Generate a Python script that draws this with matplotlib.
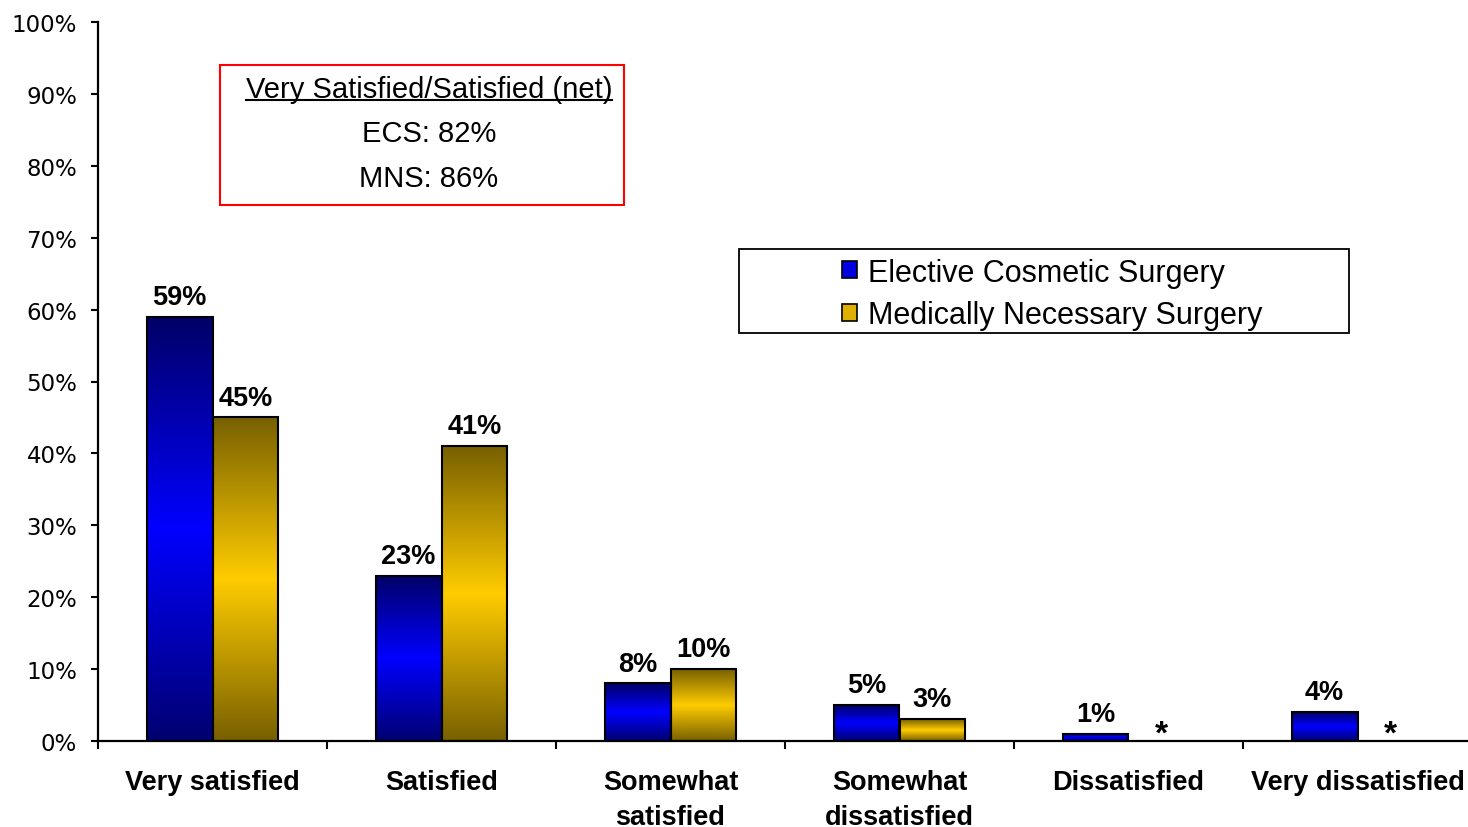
import matplotlib
matplotlib.use("Agg")
import matplotlib.pyplot as plt
import numpy as np
from matplotlib.colors import LinearSegmentedColormap
from matplotlib.patches import Rectangle, Patch
from matplotlib.lines import Line2D

categories = ["Very satisfied", "Satisfied", "Somewhat\nsatisfied",
              "Somewhat\ndissatisfied", "Dissatisfied", "Very dissatisfied"]
ecs_values = [59, 23, 8, 5, 1, 4]
mns_values = [45, 41, 10, 3, 0, 0]
ecs_labels = ["59%", "23%", "8%", "5%", "1%", "4%"]
mns_labels = ["45%", "41%", "10%", "3%", "*", "*"]
series_names = ["Elective Cosmetic Surgery", "Medically Necessary Surgery"]
yticks = [0, 10, 20, 30, 40, 50, 60, 70, 80, 90, 100]
ytick_labels = ["0%", "10%", "20%", "30%", "40%", "50%", "60%", "70%", "80%", "90%", "100%"]
box_lines = ["Very Satisfied/Satisfied (net)", "ECS: 82%", "MNS: 86%"]

W, H = 1468, 828
fig = plt.figure(figsize=(W / 100, H / 100), dpi=100)
ax = fig.add_axes([98 / W, 1 - 742 / H, (1468 - 98) / W, (742 - 23) / H])

blue_cmap = LinearSegmentedColormap.from_list(
    "b", [(0, "#000070"), (0.5, "#0000FF"), (1, "#000066")])
gold_cmap = LinearSegmentedColormap.from_list(
    "g", [(0, "#786000"), (0.5, "#FFCC00"), (1, "#786000")])
grad = np.linspace(0, 1, 256).reshape(-1, 1)

x = np.arange(len(categories))
bw = 0.288
bars_e = ax.bar(x - bw / 2, ecs_values, bw, facecolor="none", edgecolor="black", linewidth=1.5, zorder=3)
bars_m = ax.bar(x + bw / 2, mns_values, bw, facecolor="none", edgecolor="black", linewidth=1.5, zorder=3)

for bars, cmap in ((bars_e, blue_cmap), (bars_m, gold_cmap)):
    for b in bars:
        h = b.get_height()
        if h <= 0:
            b.set_visible(False)
            continue
        x0 = b.get_x()
        im = ax.imshow(grad, extent=[x0, x0 + b.get_width(), 0, h], origin="lower",
                       aspect="auto", cmap=cmap, zorder=2, interpolation="bilinear")
        im.set_clip_path(b)

lab_font = dict(family="Liberation Sans", fontsize=19.5, fontweight="bold")
for bars, labels in ((bars_e, ecs_labels), (bars_m, mns_labels)):
    for b, lab in zip(bars, labels):
        cx = b.get_x() + b.get_width() / 2
        if lab == "*":
            ax.annotate(lab, (cx, 0), xytext=(0, -6), textcoords="offset points",
                        ha="center", va="bottom", family="Liberation Sans",
                        fontsize=24, fontweight="bold")
        else:
            ax.annotate(lab, (cx, b.get_height()), xytext=(0, 5), textcoords="offset points",
                        ha="center", va="bottom", **lab_font)

ax.set_xlim(-0.5, -0.5 + (1468 - 98) / 229)
ax.set_ylim(0, 100)
ax.set_yticks(yticks)
ax.set_yticklabels(ytick_labels, family="DejaVu Sans", fontsize=16.5)
ax.tick_params(axis="y", direction="out", length=5, width=1.5, pad=10)
ax.set_xticks(x)
ax.set_xticklabels(categories, linespacing=1.45, **lab_font)
ax.set_xticks(np.arange(-0.5, 5.5, 1.0), minor=True)
ax.tick_params(axis="x", which="major", length=0, pad=20)
ax.tick_params(axis="x", which="minor", direction="out", length=6, width=1.5)
for s in ("top", "right"):
    ax.spines[s].set_visible(False)
for s in ("left", "bottom"):
    ax.spines[s].set_linewidth(1.6)

# Legend with manual frame
fig.add_artist(Rectangle((739 / W, 1 - 334 / H), (1349 - 739) / W, (334 - 250) / H,
                         transform=fig.transFigure, facecolor="white", edgecolor="black",
                         linewidth=1.3, zorder=5))
handles = [Patch(facecolor="#0000E0", edgecolor="black", linewidth=1.2),
           Patch(facecolor="#E0B000", edgecolor="black", linewidth=1.2)]
leg = fig.legend(handles, series_names, loc="center",
                 bbox_to_anchor=(1052 / W, 1 - 295 / H), frameon=False,
                 prop=dict(family="Liberation Sans", size=22),
                 handlelength=0.5, handleheight=0.5, handletextpad=0.35,
                 labelspacing=0.42)
leg.set_zorder(6)

# Net box
fig.add_artist(Rectangle((220 / W, 1 - 206 / H), (624 - 220) / W, (206 - 66) / H,
                         transform=fig.transFigure, facecolor="white", edgecolor="#FF0000",
                         linewidth=1.5, zorder=5))
ys = [90, 134, 179]
texts = []
for line, yy in zip(box_lines, ys):
    t = fig.text(429 / W, 1 - yy / H, line, ha="center", va="center",
                 family="Liberation Sans", fontsize=21, zorder=6)
    texts.append(t)
fig.canvas.draw()
bb = texts[0].get_window_extent()
fig.add_artist(Line2D([bb.x0 / W, bb.x1 / W], [1 - 101 / H, 1 - 101 / H],
                      transform=fig.transFigure, color="black", linewidth=1.5, zorder=6))

fig.savefig("out.png", dpi=100)
